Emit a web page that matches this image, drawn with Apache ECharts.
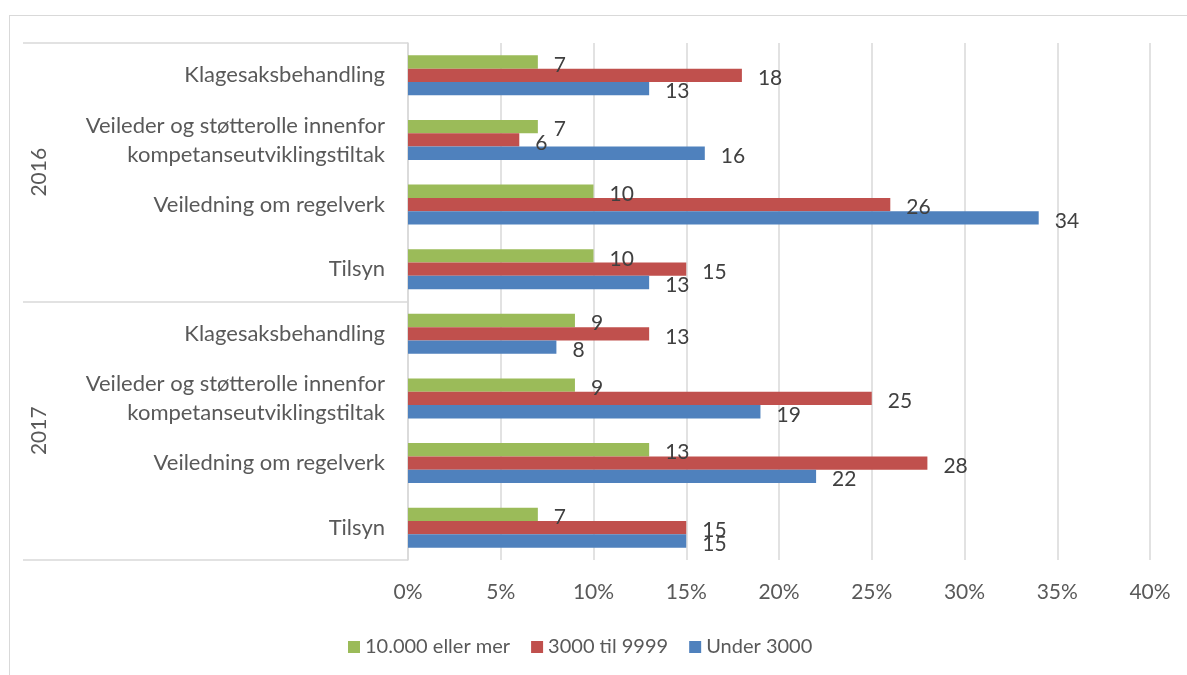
<!DOCTYPE html>
<html>
<head>
<meta charset="utf-8">
<script src="https://cdn.jsdelivr.net/npm/echarts@6/dist/echarts.min.js"></script>
<style>
  html, body { margin: 0; padding: 0; background: #ffffff; }
  #frame { position: absolute; left: 9px; top: 15px; width: 1300px; height: 800px; border: 1px solid #d9d9d9; box-sizing: border-box; }
  #chart { position: absolute; left: 0; top: 0; width: 1187px; height: 675px; }
</style>
</head>
<body>
<div id="frame"></div>
<div id="chart"></div>
<script>
// Categories, top to bottom
const categories = [
  'Klagesaksbehandling',
  'Veileder og støtterolle innenfor\nkompetanseutviklingstiltak',
  'Veiledning om regelverk',
  'Tilsyn',
  'Klagesaksbehandling',
  'Veileder og støtterolle innenfor\nkompetanseutviklingstiltak',
  'Veiledning om regelverk',
  'Tilsyn'
];
const years = ['2016', '2017'];
const seriesNames = ['10.000 eller mer', '3000 til 9999', 'Under 3000'];
const big = [7, 7, 10, 10, 9, 9, 13, 7];        // 10.000 eller mer
const mid = [18, 6, 26, 15, 13, 25, 28, 15];    // 3000 til 9999
const small = [13, 16, 34, 13, 8, 19, 22, 15];  // Under 3000
const xTicks = [0, 5, 10, 15, 20, 25, 30, 35, 40];

const FONT = 'Lato';
const colors = ['#9BBB59', '#C0504D', '#4F81BD'];

const chart = echarts.init(document.getElementById('chart'), null, { renderer: 'canvas' });

function mk(name, data, color) {
  return {
    name: name,
    type: 'bar',
    data: data,
    yAxisIndex: 0,
    barGap: '0%',
    barCategoryGap: '38%',
    itemStyle: { color: color },
    label: {
      show: true,
      position: 'right',
      distance: 16,
      offset: [0, 3],
      fontFamily: FONT,
      fontSize: 21,
      color: '#404040'
    }
  };
}

chart.setOption({
  animation: false,
  textStyle: { fontFamily: FONT },
  grid: { left: 408, right: 37, top: 43, bottom: 115, containLabel: false },
  legend: {
    data: seriesNames,
    left: 343,
    top: 632,
    icon: 'rect',
    itemWidth: 12,
    itemHeight: 12,
    itemGap: 21,
    textStyle: { fontFamily: FONT, fontSize: 20, color: '#595959' }
  },
  xAxis: {
    type: 'value',
    min: xTicks[0],
    max: xTicks[xTicks.length - 1],
    interval: 5,
    axisLine: { show: false },
    axisTick: { show: false },
    splitLine: { lineStyle: { color: '#d9d9d9', width: 1.5 } },
    axisLabel: {
      formatter: '{value}%',
      fontFamily: FONT,
      fontSize: 21,
      color: '#595959',
      margin: 22
    }
  },
  yAxis: [
    {
      type: 'category',
      data: categories,
      inverse: true,
      axisLine: { show: true, lineStyle: { color: '#d9d9d9', width: 1.5 } },
      axisTick: { show: false },
      axisLabel: {
        fontFamily: FONT,
        fontSize: 22,
        lineHeight: 29,
        color: '#595959',
        margin: 23,
        align: 'right'
      }
    },
    {
      type: 'category',
      data: years,
      inverse: true,
      position: 'left',
      axisLine: { show: false },
      axisTick: { show: true, length: 385, lineStyle: { color: '#d9d9d9', width: 1.5 } },
      axisLabel: {
        rotate: 90,
        fontFamily: FONT,
        fontSize: 21,
        color: '#595959',
        margin: 358
      }
    }
  ],
  series: [
    mk(seriesNames[0], big, colors[0]),
    mk(seriesNames[1], mid, colors[1]),
    mk(seriesNames[2], small, colors[2])
  ]
});
</script>
</body>
</html>
